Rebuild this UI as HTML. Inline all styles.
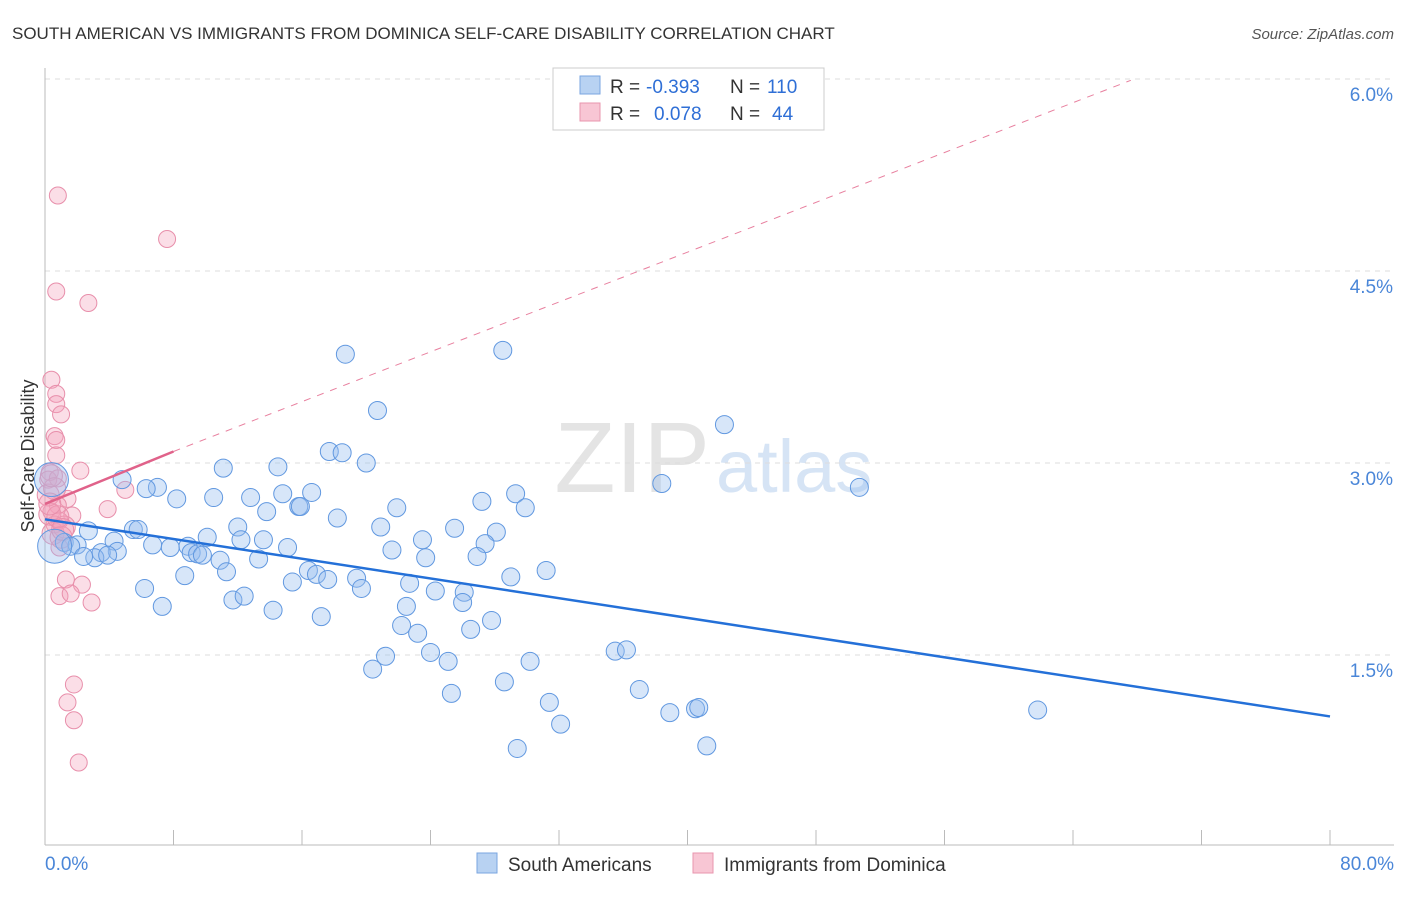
<!DOCTYPE html>
<html><head><meta charset="utf-8"><style>
body{margin:0;background:#fff;font-family:"Liberation Sans",sans-serif;}
svg text{font-family:"Liberation Sans",sans-serif;}
</style></head><body>
<svg id="chart" width="1406" height="892" xmlns="http://www.w3.org/2000/svg">
<text x="12" y="39" font-size="17" fill="#333">SOUTH AMERICAN VS IMMIGRANTS FROM DOMINICA SELF-CARE DISABILITY CORRELATION CHART</text>
<text x="1394" y="39" font-size="15" fill="#555" font-style="italic" text-anchor="end">Source: ZipAtlas.com</text>
<text x="710" y="492" font-size="100" fill="#e4e4e4" font-family="Liberation Serif" text-anchor="end">ZIP</text>
<text x="716" y="492" font-size="74" fill="#d6e4f5">atlas</text>
<g id="grid"></g><g id="axes"></g><g id="marks"></g>
<text transform="translate(34,456) rotate(-90)" font-size="18" fill="#333" text-anchor="middle">Self-Care Disability</text>
<g>
<rect x="553" y="68" width="271" height="62" fill="#fff" stroke="#ccc"/>
<rect x="580" y="76" width="20" height="18" fill="#b8d2f2" stroke="#7aa6e0"/>
<rect x="580" y="103" width="20" height="18" fill="#f8c6d4" stroke="#e895ae"/>
<text x="610" y="93" font-size="19" fill="#333">R =</text>
<text x="646" y="93" font-size="19" fill="#2f6fd6">-0.393</text>
<text x="730" y="93" font-size="19" fill="#333">N =</text>
<text x="767" y="93" font-size="19" fill="#2f6fd6">110</text>
<text x="610" y="120" font-size="19" fill="#333">R =</text>
<text x="654" y="120" font-size="19" fill="#2f6fd6">0.078</text>
<text x="730" y="120" font-size="19" fill="#333">N =</text>
<text x="772" y="120" font-size="19" fill="#2f6fd6">44</text>
</g>
<g>
<rect x="477" y="853" width="20" height="20" fill="#b8d2f2" stroke="#7aa6e0"/>
<text x="508" y="871" font-size="19" fill="#333">South Americans</text>
<rect x="693" y="853" width="20" height="20" fill="#f8c6d4" stroke="#e895ae"/>
<text x="724" y="871" font-size="19" fill="#333">Immigrants from Dominica</text>
</g>
</svg>
<script>
const yTicks=[1.5,3.0,4.5,6.0];
const yTickLabels=["1.5%","3.0%","4.5%","6.0%"];
const xTickLabels=["0.0%","80.0%"];
const blueX=[18.7,28.5,20.7,42.3,17.7,18.5,20.0,11.1,14.5,4.8,7.0,6.3,38.4,50.7,29.3,16.6,14.8,8.2,10.5,12.8,27.2,15.8,15.9,13.8,21.9,29.9,18.2,2.7,5.5,5.8,12.0,20.9,25.5,28.1,10.1,12.2,13.6,23.5,4.3,6.7,7.8,8.9,15.1,27.4,1.2,2.0,1.6,21.6,9.1,9.5,4.5,3.5,3.1,3.9,2.4,9.8,10.9,13.3,23.7,26.9,31.2,11.3,16.4,16.9,8.7,17.6,19.4,29.0,15.4,22.7,19.7,24.3,26.1,6.2,11.7,12.4,7.3,22.5,26.0,14.2,17.2,27.8,22.2,26.5,23.2,35.5,36.2,24.0,21.2,25.1,30.2,20.4,28.6,37.0,25.3,31.4,38.9,40.5,40.7,61.8,32.1,29.4,41.2,0.6,0.4];
const blueY=[3.85,3.88,3.41,3.30,3.09,3.08,3.00,2.96,2.97,2.87,2.81,2.80,2.84,2.81,2.76,2.77,2.76,2.72,2.73,2.73,2.70,2.66,2.66,2.62,2.65,2.65,2.57,2.47,2.48,2.48,2.50,2.50,2.49,2.46,2.42,2.40,2.40,2.40,2.39,2.36,2.34,2.35,2.34,2.37,2.38,2.36,2.35,2.32,2.30,2.29,2.31,2.30,2.26,2.28,2.27,2.28,2.24,2.25,2.26,2.27,2.16,2.15,2.16,2.13,2.12,2.09,2.10,2.11,2.07,2.06,2.02,2.00,1.99,2.02,1.93,1.96,1.88,1.88,1.91,1.85,1.80,1.77,1.73,1.70,1.67,1.53,1.54,1.52,1.49,1.45,1.45,1.39,1.29,1.23,1.20,1.13,1.05,1.08,1.09,1.07,0.96,0.77,0.79,2.35,2.87];
const pinkX=[0.8,7.6,0.7,2.7,0.4,0.7,0.7,1.0,0.6,0.7,0.7,2.2,0.3,0.2,0.8,5.0,1.4,0.8,3.9,1.7,0.4,0.9,0.6,0.9,1.3,2.3,0.9,1.6,2.9,1.8,1.4,1.8,2.1,0.3,0.5,0.2,0.6,1.2,1.0,0.4,0.8,1.1,0.3];
const pinkY=[5.09,4.75,4.34,4.25,3.65,3.54,3.46,3.38,3.21,3.18,3.06,2.94,2.93,2.87,2.88,2.79,2.72,2.67,2.64,2.59,2.62,2.55,2.52,2.34,2.09,2.05,1.96,1.98,1.91,1.27,1.13,0.99,0.66,2.60,2.45,2.75,2.80,2.50,2.42,2.90,2.58,2.48,2.68];
const blueTrend=[[0,2.56],[80,1.02]];
const pinkSolid=[[0,2.68],[8.0,3.09]];
const pinkDash=[[8.0,3.09],[67.6,5.99]];
const NS="http://www.w3.org/2000/svg";
const X=v=>45+v/80*1285, Y=v=>847-v/1.5*192;
function mk(t,a,p){const e=document.createElementNS(NS,t);for(const k in a)e.setAttribute(k,a[k]);document.getElementById(p).appendChild(e);return e;}
yTicks.forEach((t,i)=>{
 const l=mk('line',{x1:45,x2:1394,y1:Y(t),y2:Y(t),stroke:'#ddd','stroke-dasharray':'5,5'},'grid');
 
 
 const tx=mk('text',{x:1393,y:Y(t)+22,'font-size':19,fill:'#4a86d8','text-anchor':'end'},'axes');
 tx.textContent=yTickLabels[i];
 
 
});
const ax=mk('line',{x1:45,x2:1394,y1:845,y2:845,stroke:'#bbb'},'axes');


const ay=mk('line',{x1:45,x2:45,y1:68,y2:845,stroke:'#bbb'},'axes');


for(let i=1;i<=10;i++){const tk=mk('line',{x1:X(i*8),x2:X(i*8),y1:830,y2:845,stroke:'#bbb'},'axes');
 
 }
[[0,'start',45],[1,'end',1394]].forEach(([i,a,x])=>{const t=mk('text',{x:x,y:870,'font-size':19,fill:'#4a86d8','text-anchor':a},'axes');t.textContent=xTickLabels[i];
 
 });
const pd=mk('line',{x1:X(pinkDash[0][0]),y1:Y(pinkDash[0][1]),x2:X(pinkDash[1][0]),y2:Y(pinkDash[1][1]),stroke:'#e8809f','stroke-dasharray':'7,7','stroke-width':1},'marks');


pinkX.forEach((x,i)=>{const c=mk('circle',{cx:X(x),cy:Y(pinkY[i]),r:i>=33?11:8.5,fill:'rgba(244,160,185,0.35)',stroke:'#e88fab','stroke-width':1},'marks');
 
 });
blueX.forEach((x,i)=>{const c=mk('circle',{cx:X(x),cy:Y(blueY[i]),r:i>=blueX.length-2?17:9,fill:'rgba(150,190,238,0.38)',stroke:'#6198e0','stroke-width':1},'marks');
 
 });
const bt=mk('line',{x1:X(blueTrend[0][0]),y1:Y(blueTrend[0][1]),x2:X(blueTrend[1][0]),y2:Y(blueTrend[1][1]),stroke:'#2470d8','stroke-width':2.5},'marks');


const ps=mk('line',{x1:X(pinkSolid[0][0]),y1:Y(pinkSolid[0][1]),x2:X(pinkSolid[1][0]),y2:Y(pinkSolid[1][1]),stroke:'#e0628a','stroke-width':2.5},'marks');


</script>
</body></html>
